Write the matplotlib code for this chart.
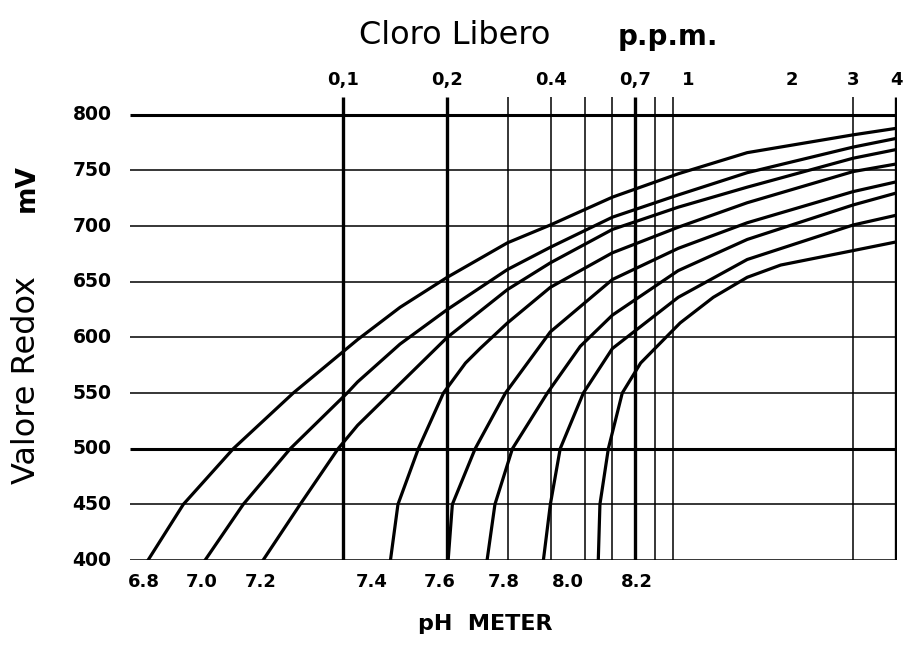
import matplotlib.pyplot as plt
from matplotlib.ticker import NullLocator

# chlorine (ppm) vs redox (mV), one curve per pH value
ph_labels = ['6.8', '7.0', '7.2', '7.4', '7.6', '7.8', '8.0', '8.2']

ppm_68 = [0.0272, 0.0344, 0.048, 0.0716, 0.110, 0.146, 0.2, 0.299, 0.398, 0.602, 0.934, 1.48, 3.0, 4.03]
mv_68 = [400, 450, 500, 550, 598, 627, 654, 685, 701, 726, 747, 766, 782, 788]

ppm_70 = [0.0398, 0.0513, 0.0702, 0.1026, 0.110, 0.146, 0.2, 0.299, 0.398, 0.602, 0.934, 1.48, 3.0, 4.03]
mv_70 = [400, 450, 500, 550, 560, 594, 625, 661, 681, 708, 728, 748, 771, 779]

ppm_72 = [0.0586, 0.075, 0.0966, 0.110, 0.137, 0.2, 0.299, 0.398, 0.602, 0.934, 1.48, 3.0, 4.03]
mv_72 = [400, 450, 500, 521, 550, 600, 643, 667, 697, 717, 735, 761, 769]

ppm_74 = [0.137, 0.144, 0.165, 0.195, 0.226, 0.249, 0.299, 0.398, 0.602, 0.934, 1.48, 3.0, 4.03]
mv_74 = [400, 450, 500, 550, 577, 590, 613, 645, 676, 699, 721, 749, 756]

ppm_76 = [0.2013, 0.207, 0.241, 0.295, 0.398, 0.602, 0.934, 1.48, 3.0, 4.03]
mv_76 = [400, 450, 500, 550, 605, 652, 680, 703, 731, 740]

ppm_78 = [0.261, 0.275, 0.309, 0.390, 0.486, 0.602, 0.934, 1.48, 3.0, 4.03]
mv_78 = [400, 450, 500, 550, 592, 620, 660, 688, 719, 730]

ppm_80 = [0.380, 0.398, 0.425, 0.496, 0.602, 0.934, 1.48, 3.0, 4.03]
mv_80 = [400, 450, 500, 550, 590, 636, 670, 701, 710]

ppm_82 = [0.548, 0.554, 0.586, 0.643, 0.727, 0.946, 1.18, 1.48, 1.85, 3.0, 4.03]
mv_82 = [400, 450, 500, 550, 577, 613, 636, 654, 665, 678, 686]

curves = [(ppm_68, mv_68), (ppm_70, mv_70), (ppm_72, mv_72), (ppm_74, mv_74),
          (ppm_76, mv_76), (ppm_78, mv_78), (ppm_80, mv_80), (ppm_82, mv_82)]

mv_grid = [400, 450, 500, 550, 600, 650, 700, 750, 800]
mv_bold = [500, 800]
ppm_grid = [0.1, 0.2, 0.3, 0.4, 0.5, 0.6, 0.7, 0.8, 0.9, 3, 4]
ppm_bold = [0.1, 0.2, 0.7, 4]
ppm_ticks = [0.1, 0.2, 0.4, 0.7, 1, 2, 3, 4]
ppm_tick_labels = ['0,1', '0,2', '0.4', '0,7', '1', '2', '3', '4']
# where the pH labels sit along the bottom (in ppm)
ph_label_x = [0.0265, 0.0390, 0.0578, 0.121, 0.190, 0.291, 0.446, 0.711]

fig = plt.figure(figsize=(9.04, 6.52), dpi=100)
ax = fig.add_axes([130 / 904, 1 - 560 / 652, 767 / 904, 463 / 652])
ax.set_xscale('log')
ax.set_xlim(0.0241, 4.02)
ax.set_ylim(400, 816)
for s in ax.spines.values():
    s.set_visible(False)
ax.xaxis.set_major_locator(NullLocator())
ax.xaxis.set_minor_locator(NullLocator())
ax.yaxis.set_major_locator(NullLocator())

for v in mv_grid:
    lw = 2.2 if v in mv_bold else 1.1
    ax.plot([0.0241, 4.02], [v, v], color='black', lw=lw, solid_capstyle='butt')
for p in ppm_grid:
    lw = 2.4 if p in ppm_bold else 1.1
    ax.plot([p, p], [400, 816], color='black', lw=lw, solid_capstyle='butt')

for x, y in curves:
    ax.plot(x, y, color='black', lw=2.3)

for v in mv_grid:
    ax.text(-0.024, v, str(v), transform=ax.get_yaxis_transform(), ha='right', va='center',
            fontsize=13.5, fontweight='bold')

for p, lab in zip(ppm_ticks, ppm_tick_labels):
    ax.text(p, 823, lab, ha='center', va='bottom', fontsize=13, fontweight='bold', clip_on=False)

for p, lab in zip(ph_label_x, ph_labels):
    ax.text(p, 380, lab, ha='center', va='center', fontsize=13, fontweight='bold', clip_on=False)

fig.text(455 / 904, 1 - 35 / 652, 'Cloro Libero', ha='center', va='center', fontsize=23)
fig.text(668 / 904, 1 - 37 / 652, 'p.p.m.', ha='center', va='center', fontsize=20, fontweight='bold')
fig.text(485 / 904, 1 - 624 / 652, 'pH  METER', ha='center', va='center', fontsize=16, fontweight='bold')
fig.text(27 / 904, 1 - 380 / 652, 'Valore Redox', ha='center', va='center', rotation=90, fontsize=23)
fig.text(27 / 904, 1 - 188 / 652, 'mV', ha='center', va='center', rotation=90, fontsize=19, fontweight='bold')

fig.savefig('out.png', dpi=100)
